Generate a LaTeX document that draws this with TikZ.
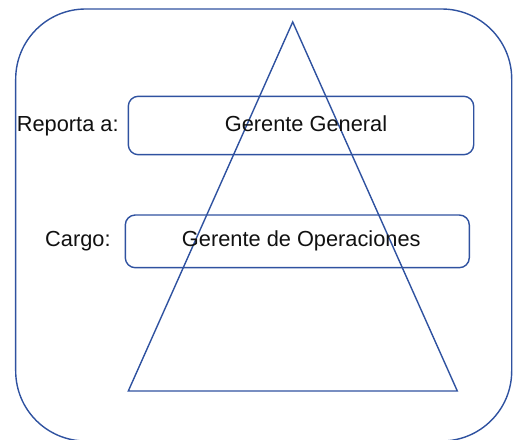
\documentclass[tikz,border=0pt]{standalone}
\usepackage{fontspec}
\setmainfont{Liberation Sans}
\usepackage{xcolor}
\usepackage{tikz}
\definecolor{lineBlue}{HTML}{2F52A0}
\definecolor{textBlack}{HTML}{111111}
\tikzset{
	cargoBox/.style = {draw = lineBlue, line width = 0.8pt, rounded corners = 0.2cm, inner sep = 0pt, text = textBlack},
	cargoLabel/.style = {inner sep = 0pt, anchor = base east, text = textBlack}
}
\newcommand{\cargoFont}{\fontsize{12.4}{15}\selectfont}

\begin{document}
\begin{tikzpicture}[font = \cargoFont]%
		\useasboundingbox (0, 0) rectangle (10.34, -8.78);

		% outer frame
		\draw[lineBlue, line width = 0.8pt, rounded corners = 1.4cm] (0.314, -0.18) rectangle (10.234, -8.82);

		% pyramid
		\coordinate (apex) at (5.854, -0.44);
		\coordinate (baseLeft) at (2.566, -7.82);
		\coordinate (baseRight) at (9.146, -7.82);
		\draw[lineBlue, line width = 0.8pt] (apex) -- (baseRight) -- (baseLeft) -- cycle;

		% reporta a
		\node[cargoBox, minimum width = 6.908cm, minimum height = 1.168cm] (jefe) at (6.02, -2.51) {};
		\node[inner sep = 0pt, anchor = base, text = textBlack] (jefeText) at (6.12, -2.634) {Gerente General};
		\node[cargoLabel] (reporta) at (2.38, -2.634) {Reporta a:};

		% cargo
		\node[cargoBox, minimum width = 6.88cm, minimum height = 1.054cm] (cargo) at (5.946, -4.827) {};
		\node[inner sep = 0pt, anchor = base, text = textBlack] (cargoText) at (6.026, -4.934) {Gerente de Operaciones};
		\node[cargoLabel] (cargoLbl) at (2.22, -4.934) {Cargo:};
	\end{tikzpicture}
\end{document}
